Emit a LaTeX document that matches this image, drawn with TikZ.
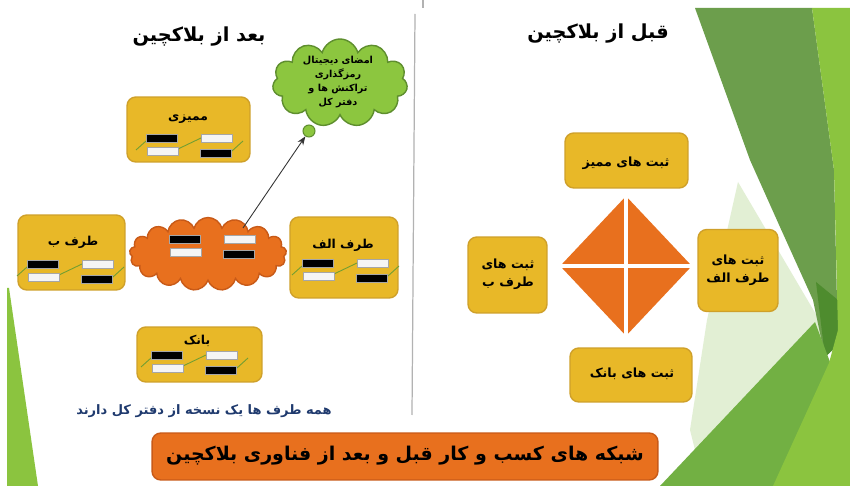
\documentclass[tikz,border=0pt]{standalone}
\usepackage{fontspec}
\newfontfamily\fa[Script=Arabic]{DejaVu Sans}
\TeXXeTstate=1
\usetikzlibrary{arrows.meta,shapes.symbols,shapes.geometric,positioning}
\definecolor{zard}{HTML}{E8B828}
\definecolor{zardTire}{HTML}{CFA02A}
\definecolor{narenji}{HTML}{E8701E}
\definecolor{narenjiTire}{HTML}{C85A18}
\definecolor{sabzAbr}{HTML}{8CC63F}
\definecolor{sabzAbrTire}{HTML}{5E8E2E}
\definecolor{sabzRoshan}{HTML}{8BC43F}
\definecolor{sabzMiane}{HTML}{72B043}
\definecolor{sabzTire}{HTML}{6C9E4C}
\definecolor{sabzTire2}{HTML}{4E8C2E}
\definecolor{sabzKamrang}{HTML}{E2EFD4}
\definecolor{sorme}{HTML}{1F3A6E}
\newcommand{\RL}[1]{\beginR #1\endR}
\tikzset{
  jabe/.style={rounded corners=5pt,fill=zard,draw=zardTire,line width=0.8pt},
  abr/.style={cloud,cloud puffs=11,aspect=2,line width=0.8pt,inner sep=0pt},
  navar/.style={rectangle,minimum width=0.62cm,minimum height=0.16cm,inner sep=0pt,draw=gray!70,line width=0.4pt},
  khat/.style={draw=sabzAbr!80!black,line width=0.5pt},
  matn/.style={font=\fa\bfseries\fontsize{7}{9}\selectfont,text=black,align=center,inner sep=0pt}
}
% four ledger bars: [style of the green lines]{name}{center}
\newcommand{\daftar}[3][khat]{%
  \begin{scope}[shift={(#3)}]
    \draw[#1] (-53,5) -- (-43,-4) (-11,4) -- (12,-7) (43,6) -- (54,-4);
    \node[navar,fill=black] (#2-1) at (-27,-7) {};
    \node[navar,fill=gray!8] (#2-2) at (-26,6) {};
    \node[navar,fill=gray!8] (#2-3) at (28,-7) {};
    \node[navar,fill=black] (#2-4) at (27,8) {};
  \end{scope}}

\begin{document}
\begin{tikzpicture}[x=0.02cm,y=-0.02cm]
\useasboundingbox (0,0) rectangle (850,486);
\fill[white] (0,0) rectangle (850,486);
% green decoration
\fill[sabzRoshan] (7,288) -- (9,288) -- (38,486) -- (7,486) -- cycle;
\fill[sabzKamrang] (738,182) -- (834,345) -- (700,470) -- (690,430) -- (707,320) -- cycle;
\fill[sabzTire] (695,8) -- (812,8) -- (834,170) -- (838,345) -- (825,357) -- (813,300) -- (780,227) -- (750,160) -- cycle;
\fill[sabzTire2] (816,282) -- (838,300) -- (838,345) -- (825,357) -- cycle;
\fill[sabzMiane] (660,486) -- (815,322) -- (830,362) -- (775,486) -- cycle;
\fill[sabzRoshan] (812,8) -- (850,8) -- (850,486) -- (773,486) -- (829,363) -- (838,330) -- (834,170) -- cycle;
% divider
\draw[gray!60,line width=0.7pt] (415,14) -- (412,415);
\draw[gray!60,line width=0.7pt] (423,0) -- (423,8);

% after blockchain
\node[matn,font=\fa\bfseries\fontsize{11}{13}\selectfont] (baad) at (199,37) {\RL{بعد از بلاکچین}};
\node[abr,fill=sabzAbr,draw=sabzAbrTire,minimum width=2.7cm,minimum height=1.76cm] (sabz) at (340,83) {};
\node[matn,font=\fa\bfseries\fontsize{5.5}{8}\selectfont] (sabzMatn) at (338,82)
  {\RL{امضای دیجیتال}\\\RL{رمزگذاری}\\\RL{تراکنش ها و}\\\RL{دفتر کل}};
\node[circle,fill=sabzAbr,draw=sabzAbrTire,line width=0.6pt,minimum size=0.24cm,inner sep=0pt] (dom) at (309,131) {};

\node[jabe,minimum width=2.46cm,minimum height=1.3cm] (momayezi) at (188.5,129.5) {};
\node[matn] (momayeziMatn) at (188,119) {\RL{ممیزی}};
\daftar{mD}{189,145}

\node[jabe,minimum width=2.14cm,minimum height=1.5cm] (tarafB) at (71.5,252.5) {};
\node[matn] (tarafBMatn) at (73,242) {\RL{طرف ب}};
\daftar{bD}{70,271}

\node[abr,fill=narenji,draw=narenjiTire,cloud puffs=17,aspect=2.4,minimum width=3.14cm,minimum height=1.46cm] (narenji) at (208,254) {};
\daftar[draw=none]{nD}{212,246}

\node[jabe,minimum width=2.16cm,minimum height=1.62cm] (tarafA) at (344,257.5) {};
\node[matn] (tarafAMatn) at (343,245) {\RL{طرف الف}};
\daftar{aD}{345,270}

\node[jabe,minimum width=2.5cm,minimum height=1.1cm] (bank) at (199.5,354.5) {};
\node[matn] (bankMatn) at (197,341) {\RL{بانک}};
\daftar{kD}{194,362}

\coordinate (sar) at (243,228);
\draw[-{Stealth[length=5pt]},line width=0.5pt,black!80] (sar) -- (dom);

\node[matn,text=sorme,font=\fa\bfseries\fontsize{7.4}{9}\selectfont] (hame) at (204,411) {\RL{همه طرف ها یک نسخه از دفتر کل دارند}};

% before blockchain
\node[matn,font=\fa\bfseries\fontsize{11}{13}\selectfont] (ghabl) at (598,34) {\RL{قبل از بلاکچین}};
\node[diamond,fill=narenji,minimum width=2.64cm,minimum height=2.8cm,inner sep=0pt] (almas) at (626,266) {};
\draw[white,line width=1.8pt] (almas.north) -- (almas.south) (almas.west) -- (almas.east);

\node[jabe,minimum width=2.46cm,minimum height=1.1cm] (sMomayez) at (626.5,160.5) {};
\node[matn,font=\fa\bfseries\fontsize{7.2}{10}\selectfont] (sMomayezMatn) at (626,163) {\RL{ثبت های ممیز}};
\node[jabe,minimum width=1.58cm,minimum height=1.52cm] (sTarafB) at (507.5,275) {};
\node[matn,font=\fa\bfseries\fontsize{7.2}{10}\selectfont] (sTarafBMatn) at (508,274) {\RL{ثبت های}\\\RL{طرف ب}};
\node[jabe,minimum width=1.6cm,minimum height=1.64cm] (sTarafA) at (738,270.5) {};
\node[matn,font=\fa\bfseries\fontsize{7.2}{10}\selectfont] (sTarafAMatn) at (738,270) {\RL{ثبت های}\\\RL{طرف الف}};
\node[jabe,minimum width=2.44cm,minimum height=1.08cm] (sBank) at (631,375) {};
\node[matn,font=\fa\bfseries\fontsize{7.2}{10}\selectfont] (sBankMatn) at (632,374) {\RL{ثبت های بانک}};

% banner
\node[rounded corners=5pt,fill=narenji,draw=narenjiTire,line width=0.8pt,minimum width=10.12cm,minimum height=0.94cm] (onvan) at (405,456.5) {};
\node[matn,font=\fa\bfseries\fontsize{10.8}{13}\selectfont] (onvanMatn) at (405,456) {\RL{شبکه های کسب و کار قبل و بعد از فناوری بلاکچین}};
\end{tikzpicture}
\end{document}
